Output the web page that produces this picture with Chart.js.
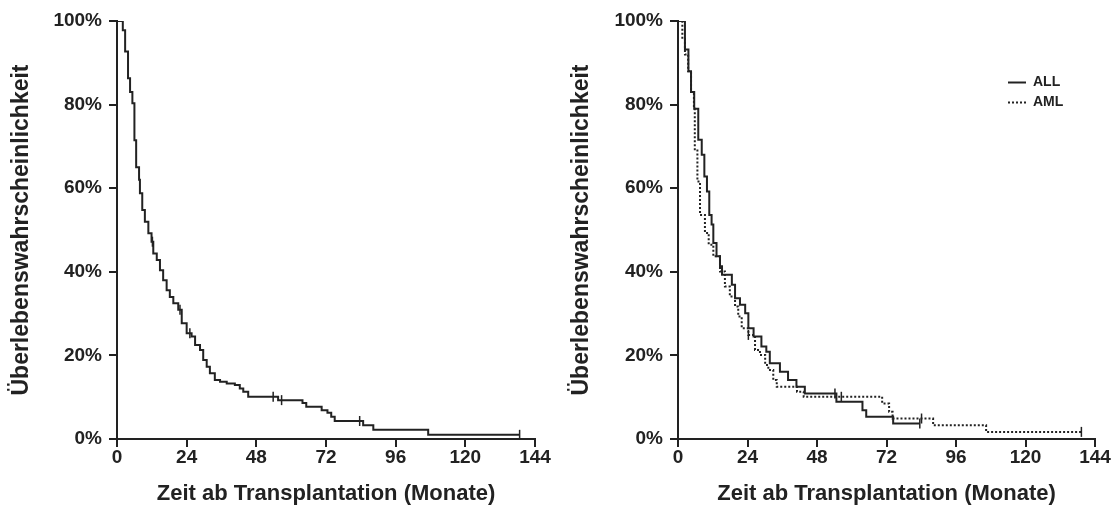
<!DOCTYPE html>
<html><head><meta charset="utf-8">
<script src="https://cdn.jsdelivr.net/npm/chart.js@4.4.1/dist/chart.umd.min.js"></script>
<style>
html,body{margin:0;padding:0;background:#fff;width:1117px;height:511px;overflow:hidden}
#w1{position:absolute;left:0;top:0;width:560px;height:511px}
#w2{position:absolute;left:560px;top:0;width:557px;height:511px}
</style></head><body>
<div id="w1"><canvas id="c1" width="560" height="511"></canvas></div>
<div id="w2"><canvas id="c2" width="557" height="511"></canvas></div>
<script>
// ---- tick labels / titles ----
const xTicks = [0, 24, 48, 72, 96, 120, 144];
const yTicks = [0, 20, 40, 60, 80, 100];
const xTitle = 'Zeit ab Transplantation (Monate)';
const yTitle = 'Überlebenswahrscheinlichkeit';
const seriesNames = ['ALL', 'AML'];

// ---- left panel: all patients (months, survival %) ----
const totalTimes = [0, 2.0, 2.8, 3.8, 4.5, 5.3, 6.0, 6.6, 7.6, 7.9, 8.7, 9.6, 10.8, 11.9, 12.5, 13.7, 14.8, 15.9, 17.1, 18.2, 19.4, 21.1, 22.3, 24.0, 25.7, 26.9, 28.6, 29.7, 30.9, 32.0, 33.7, 35.5, 37.8, 40.6, 42.3, 43.5, 45.2, 55.5, 63.9, 65.2, 70.5, 72.5, 73.8, 75.0, 84.8, 88.3, 107.2, 138.7];
const totalSurv  = [100, 97.8, 92.7, 86.3, 83.0, 80.3, 71.5, 65.0, 62.0, 58.8, 54.8, 52.0, 49.2, 47.2, 44.4, 42.8, 40.4, 38.0, 35.6, 34.0, 32.5, 30.9, 27.7, 25.3, 24.5, 22.5, 21.3, 18.9, 17.3, 15.7, 14.1, 13.7, 13.3, 12.9, 12.1, 11.3, 10.1, 9.3, 8.6, 7.7, 6.9, 6.3, 5.3, 4.3, 3.3, 2.2, 1.0, 1.0];
const totalCensorTimes = [12.2, 21.7, 25.1, 53.8, 56.7, 83.6, 138.7];
const totalCensorSurv  = [47.2, 30.9, 25.3, 10.1, 9.3, 4.3, 1.0];

// ---- right panel: ALL ----
const allTimes = [0, 2.4, 3.6, 4.5, 5.6, 7.0, 8.2, 9.1, 10.0, 10.8, 11.6, 12.2, 13.3, 14.5, 15.2, 18.6, 19.7, 21.4, 23.2, 24.3, 26.1, 28.8, 30.5, 31.7, 35.2, 38.0, 40.9, 43.8, 54.7, 63.7, 65.0, 74.3, 83.5];
const allSurv  = [100, 93.2, 88.0, 83.0, 79.0, 71.6, 68.0, 62.8, 59.2, 53.6, 51.3, 46.9, 43.7, 41.3, 39.3, 36.9, 33.7, 32.1, 30.1, 26.5, 24.5, 22.1, 20.9, 18.1, 16.1, 14.1, 12.5, 10.9, 8.9, 6.9, 5.3, 3.7, 3.7];
const allCensorTimes = [54.2, 83.5];
const allCensorSurv  = [10.9, 3.7];

// ---- right panel: AML ----
const amlTimes = [0, 1.5, 2.4, 3.5, 4.5, 5.5, 5.8, 6.7, 7.6, 9.3, 10.6, 12.2, 14.5, 16.2, 17.9, 19.7, 20.8, 22.0, 24.3, 26.6, 28.3, 30.1, 31.2, 32.9, 34.1, 41.1, 43.4, 70.5, 72.9, 74.1, 88.1, 106.4, 139.3];
const amlSurv  = [100, 96.0, 92.0, 88.0, 83.0, 79.0, 69.0, 61.6, 53.6, 49.3, 46.5, 43.7, 40.1, 36.5, 34.1, 31.7, 29.3, 26.5, 24.9, 21.3, 20.1, 17.7, 16.5, 14.1, 12.5, 11.3, 10.1, 8.5, 6.5, 4.9, 3.3, 1.7, 1.7];
const amlCensorTimes = [24.3, 56.4, 84.1, 139.3];
const amlCensorSurv  = [24.9, 10.1, 4.9, 1.7];

const INK = '#222222';
const FONT = '"Liberation Sans", Arial, Helvetica, sans-serif';

const pts = (t, s) => t.map((v, i) => ({x: v, y: s[i]}));

function curve(label, t, s, dash) {
  return {label, data: pts(t, s), borderColor: INK, borderWidth: 2, borderDash: dash || [],
    stepped: 'before', pointRadius: 0, fill: false, tension: 0, order: 1};
}
function censor(label, t, s) {
  return {label, data: pts(t, s), showLine: false, pointStyle: 'line', rotation: 90,
    pointRadius: 5, pointBorderWidth: 1.5, pointBorderColor: INK, borderColor: INK, order: 0};
}

function options(yWidth, padRight) {
  return {
    responsive: false, animation: false, devicePixelRatio: 1,
    layout: {padding: {left: 0, top: 21, right: padRight, bottom: 0}},
    plugins: {legend: {display: false}, tooltip: {enabled: false}},
    scales: {
      x: {
        type: 'linear', min: 0, max: 144,
        afterBuildTicks: s => { s.ticks = xTicks.map(v => ({value: v})); },
        afterFit: s => { s.height = 72; },
        ticks: {color: INK, font: {family: FONT, size: 19, weight: 'bold'}, padding: -1, maxRotation: 0, autoSkip: false},
        grid: {drawOnChartArea: false, drawTicks: true, tickLength: 8, lineWidth: 2, color: INK},
        border: {display: true, color: INK, width: 2},
        title: {display: true, text: xTitle, color: INK, font: {family: FONT, size: 22, weight: 'bold'}, padding: {top: 0, bottom: 4}}
      },
      y: {
        type: 'linear', min: 0, max: 100,
        afterBuildTicks: s => { s.ticks = yTicks.map(v => ({value: v})); },
        afterFit: s => { s.width = yWidth; },
        ticks: {color: INK, font: {family: FONT, size: 19, weight: 'bold'}, padding: 7, callback: v => v + '%'},
        grid: {drawOnChartArea: false, drawTicks: true, tickLength: 8, lineWidth: 2, color: INK},
        border: {display: true, color: INK, width: 2},
        title: {display: true, text: yTitle, color: INK, font: {family: FONT, size: 23, weight: 'bold'}, padding: {top: 8, bottom: 0}}
      }
    }
  };
}

const legendPlugin = {
  id: 'kmLegend',
  afterDraw(chart) {
    const {ctx, chartArea} = chart;
    const ds = chart.data.datasets.filter(d => seriesNames.includes(d.label));
    ctx.save();
    ctx.font = 'bold 14px ' + FONT;
    ctx.fillStyle = INK;
    ctx.textBaseline = 'middle';
    ds.forEach((d, i) => {
      const y = chartArea.top + 61.5 + i * 20;
      const x0 = chartArea.right - 87;
      ctx.strokeStyle = INK; ctx.lineWidth = 2;
      ctx.setLineDash(d.borderDash || []);
      ctx.beginPath(); ctx.moveTo(x0, y); ctx.lineTo(x0 + 18, y); ctx.stroke();
      ctx.setLineDash([]);
      ctx.fillText(d.label, x0 + 25, y);
    });
    ctx.restore();
  }
};

new Chart(document.getElementById('c1'), {
  type: 'line',
  data: {datasets: [
    curve('Gesamt', totalTimes, totalSurv),
    censor('Gesamt zensiert', totalCensorTimes, totalCensorSurv)
  ]},
  options: options(117, 25)
});

new Chart(document.getElementById('c2'), {
  type: 'line',
  data: {datasets: [
    curve(seriesNames[0], allTimes, allSurv),
    curve(seriesNames[1], amlTimes, amlSurv, [2, 2]),
    censor('ALL zensiert', allCensorTimes, allCensorSurv),
    censor('AML zensiert', amlCensorTimes, amlCensorSurv)
  ]},
  options: options(118, 22),
  plugins: [legendPlugin]
});
</script>
</body></html>
